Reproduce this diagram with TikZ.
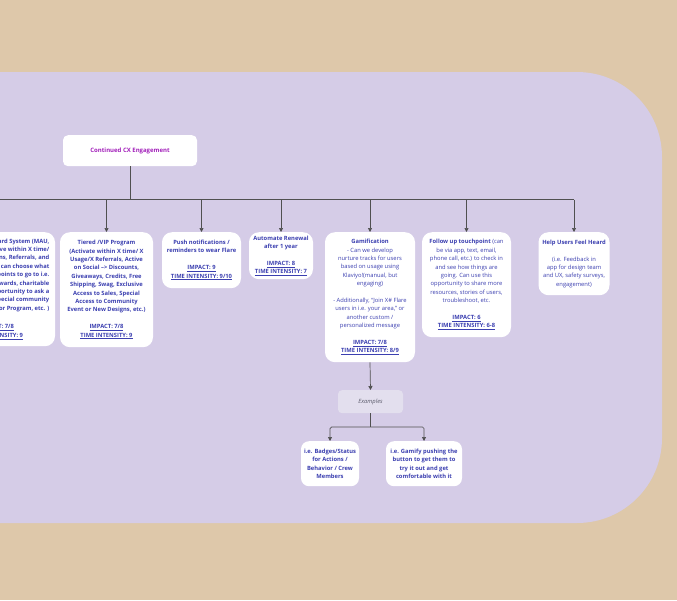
\documentclass[tikz,border=0pt]{standalone}
\usepackage{fontspec}
\setmainfont{Open Sans}
\usetikzlibrary{arrows.meta}
\definecolor{bgbeige}{HTML}{DEC8AA}
\definecolor{bglav}{HTML}{D5CCE7}
\definecolor{txtblue}{HTML}{3B3FB0}
\definecolor{ttlmag}{HTML}{A21FBA}
\definecolor{linegray}{HTML}{505050}
\definecolor{exfill}{HTML}{E3DFEE}
\definecolor{exgray}{HTML}{5A5A6A}
\newcommand{\imp}[1]{\underline{\textbf{#1}}}
\begin{document}
\begin{tikzpicture}[x=1pt,y=-1pt,
  card/.style={fill=white, rounded corners=10pt, align=center, text=txtblue,
    font=\fontsize{5.8}{8.4}\selectfont, inner sep=0pt, anchor=north},
  boldcard/.style={card, font=\bfseries\fontsize{5.8}{8.4}\selectfont},
  plaintext/.style={align=center, text=txtblue, inner sep=0pt,
    font=\bfseries\fontsize{5.8}{8.4}\selectfont},
  link/.style={draw=linegray, line width=0.7pt},
  conn/.style={link, rounded corners=1.5pt, -{Triangle[length=4pt,width=4pt]}}]
\useasboundingbox (0,0) rectangle (677,600);
\clip (0,0) rectangle (677,600);
\fill[bgbeige] (0,0) rectangle (677,600);
\fill[bglav, rounded corners=85pt] (-120,72) rectangle (662,523);

% title
\node[card, rounded corners=5pt, minimum width=134pt, minimum height=31pt,
  text=ttlmag, font=\bfseries\fontsize{6}{7}\selectfont] (top) at (130,135) {Continued CX Engagement};

% left (clipped) card
\node[card, minimum width=110pt, minimum height=114pt] (c0) at (0,232) {};
\node[plaintext, align=right, anchor=north east] (c0t) at (49.5,238.5)
 {Reward System (MAU,\\Active within X time/\\Usage/X Logins, Referrals, and\\Social Activity. Users can choose what\\their points to go to i.e.\\rewards, charitable\\donations, opportunity to ask a\\special community\\Ambassador Program, etc. )};
\node[plaintext] (c0i) at (-3,332) {\imp{IMPACT: 7/8}\\\imp{TIME INTENSITY: 9}};

% VIP card
\node[boldcard, minimum width=93pt, minimum height=115pt] (c1) at (106.5,232)
 {Tiered /VIP Program\\(Activate within X time/ X\\Usage/X Referrals, Active\\on Social --> Discounts,\\Giveaways, Credits, Free\\Shipping, Swag, Exclusive\\Access to Sales, Special\\Access to Community\\Event or New Designs, etc.)\\[8.4pt]\imp{IMPACT: 7/8}\\\imp{TIME INTENSITY: 9}};

% push notifications
\node[boldcard, minimum width=79pt, minimum height=56pt] (c2) at (201.5,232)
 {Push notifications /\\reminders to wear Flare\\[8.4pt]\imp{IMPACT: 9}\\\imp{TIME INTENSITY: 9/10}};

% automate renewal
\node[boldcard, minimum width=64pt, minimum height=47pt] (c3) at (281,232)
 {Automate Renewal\\after 1 year\\[8.4pt]\imp{IMPACT: 8}\\\imp{TIME INTENSITY: 7}};

% gamification
\node[card, minimum width=90pt, minimum height=130pt] (c4) at (370,232)
 {\textbf{Gamification}\\- Can we develop\\nurture tracks for users\\based on usage using\\Klaviyo!(manual, but\\engaging)\\[8.4pt]- Additionally, ``Join X\# Flare\\users in i.e. your area,'' or\\another custom /\\personalized message\\[8.4pt]\imp{IMPACT: 7/8}\\\imp{TIME INTENSITY: 8/9}};

% follow up
\node[card, minimum width=89pt, minimum height=105pt] (c5) at (466.5,232)
 {\textbf{Follow up touchpoint} (can\\be via app, text, email,\\phone call, etc.) to check in\\and see how things are\\going. Can use this\\opportunity to share more\\resources, stories of users,\\troubleshoot, etc.\\[8.4pt]\imp{IMPACT: 6}\\\imp{TIME INTENSITY: 6-8}};

% help users
\node[card, minimum width=71pt, minimum height=63pt] (c6) at (574,232)
 {\textbf{Help Users Feel Heard}\\[8.4pt](i.e. Feedback in\\app for design team\\and UX, safety surveys,\\engagement)};

% examples
\node[card, fill=exfill, rounded corners=4pt, minimum width=65pt, minimum height=23pt,
  text=exgray, font=\itshape\fontsize{5.8}{8.4}\selectfont] (ex) at (370.5,390) {Examples};

\node[boldcard, rounded corners=8pt, minimum width=58pt, minimum height=45pt] (b1) at (330,441)
 {i.e. Badges/Status\\for Actions /\\Behavior / Crew\\Members};
\node[boldcard, rounded corners=8pt, minimum width=76pt, minimum height=45pt] (b2) at (424,441)
 {i.e. Gamify pushing the\\button to get them to\\try it out and get\\comfortable with it};

% connectors
\coordinate (bus) at (130,199.5);
\coordinate (busL) at (-10,199.5);
\draw[link] (top.south) -- (bus);
\draw[link] (busL) -- (c6.north |- bus);
\foreach \c in {c1,c2,c3,c4,c5,c6}
  \draw[conn] (\c.north |- bus) -- (\c.north);
\draw[conn] (c4.south) -- (ex.north);
\coordinate (exbus) at (370.5,427);
\draw[link] (ex.south) -- (exbus);
\draw[conn] (exbus) -| (b1.north);
\draw[conn] (exbus) -| (b2.north);
\end{tikzpicture}
\end{document}
